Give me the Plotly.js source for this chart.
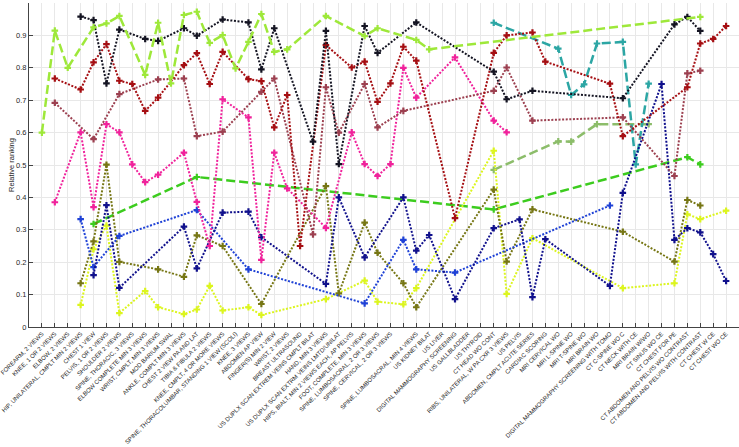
<!DOCTYPE html>
<html>
<head>
<meta charset="utf-8">
<script src="https://cdn.plot.ly/plotly-3.0.1.min.js"></script>
<style>html,body{margin:0;padding:0;background:#fff;}#chart{width:739px;height:447px;}</style>
</head>
<body>
<div id="chart"></div>
<script>
var categories = [
"FOREARM, 2 VIEWS","KNEE, 1 OR 2 VIEWS","ELBOW, 2 VIEWS","HIP, UNILATERAL, CMPLT MIN 2 VIEWS","CHEST 1 VIEW",
"PELVIS, 1 OR 2 VIEWS","SHOULDER 2 VIEWS","SPINE, THORACIC, 3 VIEWS","ELBOW COMPLETE MIN 3 VIEWS","WRIST, CMPLT, MIN 3 VIEWS",
"MOD BARIUM SWAL","ANKLE, COMPLT MIN 3 VIEWS","CHEST 2 VIEW PA AND LAT","TIBIA & FIBULA 2 VIEWS","KNEE, CMPLT, 4 OR MORE VIEWS",
"SPINE, THORACOLUMBAR, STANDING 1 VIEW (SCOLI)","KNEE, 3 VIEWS","ABDOMEN AP VIEW","FINGER(S) MIN 2 VIEW","WRIST, 2 VIEWS",
"BREAST ULTRASOUND","US DUPLX SCAN EXTREM VEINS CMPLT BILAT","HAND, MIN 3 VIEWS","US DUPLX SCAN EXTRM VEINS LMTD/UNILAT","HIPS, BIALT, MIN 2 VIEWS EACH, AP PELVIS",
"FOOT, COMPLETE, MIN 3 VIEWS","SPINE, LUMBOSACRAL, 2 OR 3 VIEWS","SPINE, CERVICAL, 2 OR 3 VIEWS","","SPINE, LUMBOSACRAL, MIN 4 VIEWS",
"US KIDNEY BILAT","US LIVER","DIGITAL MAMMOGRAPHY SCREENING","US GALLBLADDER","US THYROID",
"CT HEAD WO CONT","RIBS, UNILATERAL, W PA CXR 3 VIEWS","US PELVIS","ABDOMEN, CMPLT ACUTE SERIES","CARDIAC SCORING",
"MRI CERVICAL WO","MRI L-SPINE WO","MRI T-SPINE WO","MRI BRAIN WO","DIGITAL MAMMOGRAPHY SCREENING WITH TOMO",
"CT C-SPINE WO C","CT NECK WITH CE","MRI BRAIN W/WO","CT SINUS WO CE","CT CHEST FOR PE",
"CT ABDOMEN AND PELVIS WO CONTRAST","CT ABDOMEN AND PELVIS WITH CONTRAST","CT CHEST W CE","CT CHEST WO CE"
];
var yTicks = [0,0.1,0.2,0.3,0.4,0.5,0.6,0.7,0.8,0.9,1];
var yTickText = ["0","0.1","0.2","0.3","0.4","0.5","0.6","0.7","0.8","0.9","1"];

// each series: [category position, relative ranking]
var lightGreenDashed = [[1,0.60],[2,0.915],[3,0.80],[5,0.925],[6,0.937],[7,0.96],[9,0.778],[10,0.939],[11,0.752],[12,0.963],[13,0.973],[14,0.877],[15,0.901],[16,0.798],[17,0.88],[18,0.966],[19,0.849],[20,0.857],[23,0.96],[26,0.898],[27,0.922],[30,0.886],[31,0.857],[52,0.957]];
var blackDotted = [[4,0.958],[5,0.947],[6,0.752],[7,0.918],[9,0.889],[10,0.883],[12,0.922],[13,0.899],[15,0.949],[17,0.94],[18,0.795],[19,0.922],[22,0.572],[23,0.914],[24,0.503],[26,0.929],[27,0.846],[30,0.94],[36,0.788],[37,0.703],[39,0.729],[46,0.706],[50,0.934],[51,0.957],[52,0.914]];
var darkRedDotted = [[2,0.767],[4,0.733],[5,0.817],[6,0.873],[7,0.76],[8,0.75],[9,0.667],[10,0.708],[12,0.808],[13,0.845],[14,0.75],[15,0.849],[17,0.765],[18,0.759],[19,0.616],[20,0.716],[21,0.25],[23,0.87],[25,0.801],[26,0.819],[27,0.695],[28,0.752],[29,0.865],[30,0.822],[33,0.336],[36,0.846],[37,0.90],[39,0.909],[40,0.819],[45,0.751],[46,0.589],[51,0.74],[52,0.875],[53,0.889],[54,0.929]];
var roseDotted = [[2,0.692],[5,0.58],[7,0.719],[10,0.764],[12,0.767],[13,0.589],[15,0.603],[18,0.726],[19,0.767],[22,0.286],[23,0.74],[24,0.60],[26,0.75],[27,0.616],[29,0.667],[36,0.729],[37,0.801],[39,0.637],[46,0.647],[50,0.466],[51,0.783],[52,0.791]];
var pinkDotted = [[2,0.385],[4,0.601],[5,0.37],[6,0.626],[7,0.601],[8,0.502],[9,0.447],[10,0.47],[12,0.538],[13,0.386],[14,0.25],[15,0.703],[17,0.647],[18,0.207],[19,0.538],[20,0.428],[23,0.306],[25,0.601],[26,0.503],[27,0.466],[28,0.503],[29,0.80],[30,0.708],[33,0.832],[36,0.637],[37,0.601]];
var greenDashed = [[5,0.318],[13,0.463],[36,0.363],[51,0.524],[52,0.502]];
var blueDotted = [[4,0.333],[5,0.185],[7,0.281],[13,0.361],[17,0.178],[26,0.073],[29,0.269],[30,0.178],[33,0.168],[45,0.375]];
var navyDotted = [[5,0.16],[6,0.376],[7,0.121],[12,0.31],[13,0.181],[15,0.353],[17,0.356],[18,0.277],[23,0.133],[24,0.40],[26,0.215],[29,0.40],[30,0.236],[31,0.284],[33,0.086],[36,0.305],[38,0.332],[39,0.092],[40,0.271],[45,0.127],[46,0.414],[49,0.75],[50,0.269],[51,0.305],[52,0.292],[53,0.225],[54,0.142]];
var oliveDotted = [[4,0.135],[5,0.264],[6,0.501],[7,0.201],[10,0.178],[12,0.155],[13,0.283],[15,0.25],[18,0.071],[23,0.435],[24,0.104],[26,0.322],[27,0.229],[29,0.135],[30,0.061],[36,0.424],[37,0.202],[39,0.363],[46,0.294],[50,0.202],[51,0.392],[52,0.375]];
var yellowDotted = [[4,0.068],[5,0.24],[6,0.313],[7,0.043],[9,0.111],[10,0.061],[12,0.04],[13,0.054],[14,0.127],[15,0.051],[17,0.061],[18,0.037],[23,0.086],[26,0.143],[27,0.078],[29,0.07],[30,0.12],[36,0.544],[37,0.102],[39,0.274],[46,0.12],[50,0.135],[51,0.348],[52,0.333],[54,0.359]];
var tealDashed = [[36,0.939],[41,0.859],[42,0.716],[43,0.749],[44,0.875],[46,0.88],[47,0.502],[48,0.751]];
var sageDashed = [[36,0.485],[41,0.573],[42,0.572],[44,0.626],[48,0.626]];

function mk(pairs, color, dashed, width) {
  return {
    type: 'scatter', mode: 'lines+markers',
    x: pairs.map(function(p){return p[0];}),
    y: pairs.map(function(p){return p[1];}),
    line: {color: color, width: width, dash: dashed ? '9px,4px' : '2px,1.6px'},
    marker: {symbol: 'cross', size: 5.5, color: color},
    showlegend: false, hoverinfo: 'skip'
  };
}

var data = [
  mk(greenDashed, '#3ccc1e', true, 2.5),
  mk(sageDashed, '#8cbd6a', true, 2.5),
  mk(tealDashed, '#2ca6a4', true, 2.5),
  mk(yellowDotted, '#dcf51e', false, 2),
  mk(oliveDotted, '#767614', false, 2),
  mk(blueDotted, '#1f42d6', false, 2),
  mk(navyDotted, '#10108c', false, 2),
  mk(pinkDotted, '#f0229b', false, 2),
  mk(roseDotted, '#9c4050', false, 2),
  mk(darkRedDotted, '#a50e12', false, 2),
  mk(blackDotted, '#141422', false, 2),
  mk(lightGreenDashed, '#9ee83a', true, 2.5)
];

var ticks = [];
for (var i = 1; i <= categories.length; i++) ticks.push(i);

var layout = {
  width: 739, height: 447,
  margin: {l: 29, r: 0, t: 3, b: 120},
  paper_bgcolor: '#ffffff', plot_bgcolor: '#ffffff',
  font: {family: 'Liberation Sans, Arial, sans-serif', color: '#262626'},
  xaxis: {
    range: [0, 55], tickvals: ticks, ticktext: categories, tickangle: -45,
    tickfont: {size: 6, color: '#262626'}, ticklabeloverflow: 'allow',
    showgrid: true, gridcolor: '#e8e8e8', gridwidth: 1,
    ticks: 'inside', ticklen: 4, tickcolor: '#444', tickwidth: 1,
    showline: true, linecolor: '#444', linewidth: 1, zeroline: false, automargin: false
  },
  yaxis: {
    range: [0, 1], tickvals: yTicks, ticktext: yTickText,
    tickfont: {size: 7.5, color: '#262626'},
    title: {text: 'Relative ranking', font: {size: 7.5, color: '#262626'}, standoff: 0},
    showgrid: true, gridcolor: '#e8e8e8', gridwidth: 1,
    ticks: 'inside', ticklen: 4, tickcolor: '#444', tickwidth: 1,
    showline: true, linecolor: '#444', linewidth: 1, zeroline: false, automargin: false
  }
};

Plotly.newPlot('chart', data, layout, {staticPlot: true, displayModeBar: false});
</script>
</body>
</html>
